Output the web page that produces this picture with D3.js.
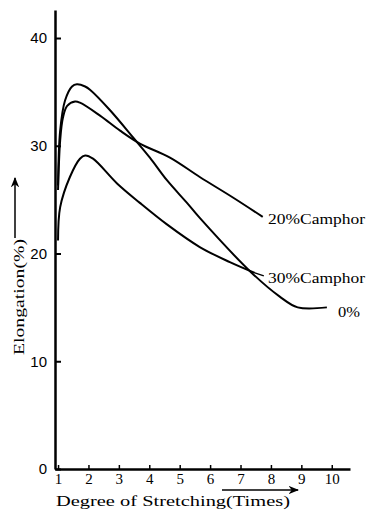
<!DOCTYPE html>
<html>
<head>
<meta charset="utf-8">
<script src="https://cdn.jsdelivr.net/npm/d3@7/dist/d3.min.js"></script>
<style>
  body { margin: 0; background: #fff; }
  svg { display: block; }
</style>
</head>
<body>
<svg id="chart" width="371" height="513"></svg>
<script>
// data
var xTicks = [1, 2, 3, 4, 5, 6, 7, 8, 9, 10];
var yTicks = [0, 10, 20, 30, 40];

var stretch0 = [1, 1.07, 1.23, 1.46, 1.62, 1.89, 2.05, 2.71, 3.46, 4.02, 4.58, 5.24, 5.66, 7.37, 8.29, 8.88, 9.84];
var elong0   = [26.3, 31.4, 34.2, 35.5, 35.7, 35.5, 35.2, 33.3, 30.8, 28.9, 26.8, 24.7, 23.3, 18.2, 16.0, 15.0, 15.0];

var stretch20 = [1, 1.07, 1.16, 1.30, 1.56, 1.72, 2.38, 3.04, 3.69, 4.68, 5.66, 6.75, 7.73];
var elong20   = [25.9, 30.5, 32.6, 33.7, 34.1, 34.0, 32.8, 31.4, 30.2, 28.9, 27.1, 25.2, 23.4];

var stretch30 = [1, 1.07, 1.39, 1.72, 1.89, 2.15, 2.94, 3.69, 4.58, 5.66, 6.65, 7.47];
var elong30   = [21.2, 24.3, 27.1, 28.8, 29.1, 28.8, 26.5, 24.7, 22.7, 20.6, 19.2, 18.2];

var seriesNames = ["0%", "20%Camphor", "30%Camphor"];

var svg = d3.select("#chart");
var serif = "'Liberation Serif', 'DejaVu Serif', serif";

var x = d3.scaleLinear().domain([0.9, 10.6]).range([55, 350]);
var y = d3.scaleLinear().domain([0, 42.6]).range([469, 10]);

// axes
var yAxis = d3.axisLeft(y).tickValues(yTicks).tickSizeInner(-6).tickSizeOuter(0).tickPadding(8);
var gy = svg.append("g").attr("transform", "translate(" + x(0.9) + ",0)").call(yAxis);
gy.select(".domain").attr("stroke", "#000").attr("stroke-width", 2.5);
gy.selectAll(".tick line").attr("stroke", "#000").attr("stroke-width", 2);
gy.selectAll(".tick text").attr("font-family", "'Liberation Sans', Arial, sans-serif")
  .attr("font-size", 15).attr("fill", "#000");

var xAxis = d3.axisBottom(x).tickValues(xTicks).tickSizeInner(-4).tickSizeOuter(0).tickPadding(4);
var gx = svg.append("g").attr("transform", "translate(0," + y(0) + ")").call(xAxis);
gx.select(".domain").attr("stroke", "#000").attr("stroke-width", 2.5);
gx.selectAll(".tick line").attr("stroke", "#000").attr("stroke-width", 1.5);
gx.selectAll(".tick text").attr("font-family", serif).attr("font-size", 15).attr("fill", "#000");

// curves
var line = d3.line()
  .x(function(d) { return x(d[0]); })
  .y(function(d) { return y(d[1]); })
  .curve(d3.curveCatmullRom.alpha(0.5));

var series = [
  { name: seriesNames[0], xs: stretch0, ys: elong0 },
  { name: seriesNames[1], xs: stretch20, ys: elong20 },
  { name: seriesNames[2], xs: stretch30, ys: elong30 }
];

series.forEach(function(s) {
  var pts = s.xs.map(function(v, i) { return [v, s.ys[i]]; });
  svg.append("path")
    .attr("d", line(pts))
    .attr("fill", "none")
    .attr("stroke", "#000")
    .attr("stroke-width", 2);
});

// short leader from the 30% curve to its label
var last30 = stretch30.length - 1;
svg.append("line")
  .attr("x1", x(stretch30[last30])).attr("y1", y(elong30[last30]))
  .attr("x2", x(stretch30[last30]) + 9).attr("y2", y(elong30[last30]) + 3)
  .attr("stroke", "#000").attr("stroke-width", 1.5);

// labels
var labels = [
  { text: seriesNames[1], px: 268, py: 224, len: 97 },
  { text: seriesNames[2], px: 268, py: 283, len: 97 },
  { text: seriesNames[0], px: 338, py: 317, len: 22 }
];
labels.forEach(function(l) {
  svg.append("text").attr("x", l.px).attr("y", l.py)
    .attr("font-family", serif).attr("font-size", 15).attr("fill", "#000")
    .attr("textLength", l.len).attr("lengthAdjust", "spacingAndGlyphs")
    .text(l.text);
});

// axis titles
svg.append("text")
  .attr("transform", "translate(24,297) rotate(-90)")
  .attr("text-anchor", "middle")
  .attr("font-family", serif).attr("font-size", 15).attr("fill", "#000")
  .attr("textLength", 116).attr("lengthAdjust", "spacingAndGlyphs")
  .text("Elongation(%)");

svg.append("text")
  .attr("x", 56).attr("y", 506)
  .attr("font-family", serif).attr("font-size", 15).attr("fill", "#000")
  .attr("textLength", 234).attr("lengthAdjust", "spacingAndGlyphs")
  .text("Degree of Stretching(Times)");

// arrows
svg.append("defs").append("marker")
  .attr("id", "arr").attr("viewBox", "0 0 10 10").attr("refX", 9).attr("refY", 5)
  .attr("markerWidth", 7).attr("markerHeight", 7).attr("orient", "auto")
  .append("path").attr("d", "M0,1 L10,5 L0,9 L3,5 Z").attr("fill", "#000");

svg.append("line").attr("x1", 15).attr("y1", 238).attr("x2", 15).attr("y2", 178)
  .attr("stroke", "#000").attr("stroke-width", 1.5).attr("marker-end", "url(#arr)");
svg.append("line").attr("x1", 222).attr("y1", 490).attr("x2", 298).attr("y2", 490)
  .attr("stroke", "#000").attr("stroke-width", 1.5).attr("marker-end", "url(#arr)");
</script>
</body>
</html>
